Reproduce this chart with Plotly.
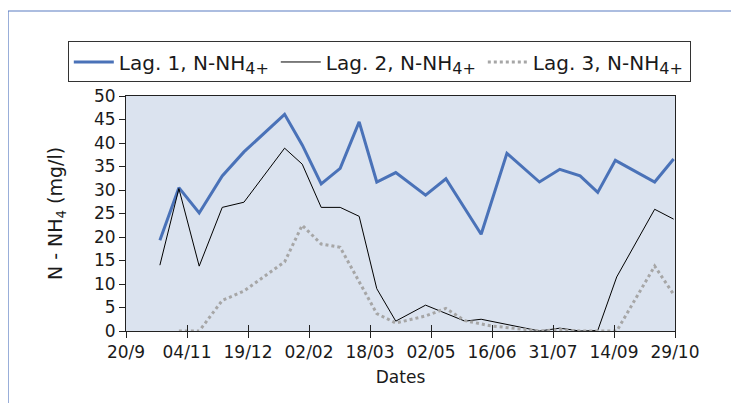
import plotly.graph_objects as go

# ---- data ----
lag1_dates = ["1999-10-15", "1999-10-29", "1999-11-13", "1999-11-30", "1999-12-16",
              "2000-01-15", "2000-01-28", "2000-02-11", "2000-02-25", "2000-03-10",
              "2000-03-23", "2000-04-06", "2000-04-28", "2000-05-13", "2000-06-08",
              "2000-06-27", "2000-07-21", "2000-08-05", "2000-08-20", "2000-09-02",
              "2000-09-15", "2000-10-14", "2000-10-28"]
lag1_vals = [19.3, 30.5, 25.1, 33.0, 38.1, 46.1, 39.6, 31.3, 34.6, 44.5, 31.7, 33.7,
             28.9, 32.4, 20.6, 37.8, 31.7, 34.4, 33.0, 29.5, 36.3, 31.7, 36.6]

lag2_dates = ["1999-10-15", "1999-10-29", "1999-11-13", "1999-11-30", "1999-12-16",
              "2000-01-15", "2000-01-28", "2000-02-11", "2000-02-25", "2000-03-10",
              "2000-03-23", "2000-04-06", "2000-04-28", "2000-05-27", "2000-06-08",
              "2000-07-21", "2000-08-05", "2000-08-20", "2000-09-02", "2000-09-16",
              "2000-10-14", "2000-10-28"]
lag2_vals = [14.0, 30.3, 13.8, 26.3, 27.4, 38.9, 35.5, 26.3, 26.3, 24.4, 9.0, 2.1,
             5.5, 2.1, 2.5, 0.0, 0.6, 0.0, 0.1, 11.5, 25.9, 23.8]

lag3_dates = ["1999-10-29", "1999-11-13", "1999-11-30", "1999-12-16", "2000-01-15",
              "2000-01-28", "2000-02-11", "2000-02-25", "2000-03-10", "2000-03-23",
              "2000-04-06", "2000-04-28", "2000-05-13", "2000-05-27", "2000-06-15",
              "2000-07-21", "2000-08-05", "2000-08-20", "2000-09-16", "2000-10-14",
              "2000-10-28"]
lag3_vals = [0.0, 0.0, 6.5, 8.5, 14.7, 22.5, 18.5, 17.8, 10.5, 3.7, 1.7, 3.2, 4.8,
             2.2, 1.1, 0.0, 0.3, 0.0, 0.0, 13.8, 7.8]

tick_dates = ["1999-09-20", "1999-11-04", "1999-12-19", "2000-02-02", "2000-03-18",
              "2000-05-02", "2000-06-16", "2000-07-31", "2000-09-14", "2000-10-29"]
tick_labels = ["20/9", "04/11", "19/12", "02/02", "18/03", "02/05", "16/06",
               "31/07", "14/09", "29/10"]
y_ticks = [0, 5, 10, 15, 20, 25, 30, 35, 40, 45, 50]

FONT = "DejaVu Sans"
FS = 17
SUB = '<sub><span style="font-size:16px">4+</span></sub>'

fig = go.Figure()
fig.add_trace(go.Scatter(x=lag1_dates, y=lag1_vals, mode="lines",
                         name="Lag. 1, N-NH" + SUB,
                         line=dict(color="#4a72b8", width=3)))
fig.add_trace(go.Scatter(x=lag2_dates, y=lag2_vals, mode="lines",
                         name="Lag. 2, N-NH" + SUB,
                         line=dict(color="#000000", width=1)))
fig.add_trace(go.Scatter(x=lag3_dates, y=lag3_vals, mode="lines",
                         name="Lag. 3, N-NH" + SUB,
                         line=dict(color="#a6a6a6", width=3, dash="dot")))
# helper trace so the overlay axis (inner tick halves) is drawn
fig.add_trace(go.Scatter(x=tick_dates, y=[None] * len(tick_dates), xaxis="x2",
                         mode="lines", showlegend=False, hoverinfo="skip"))

x_range = [tick_dates[0], tick_dates[-1]]

fig.update_layout(
    width=739, height=403,
    margin=dict(l=118, r=72, t=88, b=80, autoexpand=False),
    paper_bgcolor="white",
    plot_bgcolor="#dbe3ef",
    font=dict(family=FONT, size=FS, color="#1a1a1a"),
    showlegend=True,
    legend=dict(orientation="h", x=-0.106, y=1.232, xanchor="left", yanchor="top",
                bordercolor="#333333", borderwidth=1, bgcolor="white",
                font=dict(family=FONT, size=20), itemwidth=40,
                entrywidth=152, tracegroupgap=0),
    xaxis=dict(type="date", range=x_range, tickvals=tick_dates, ticktext=tick_labels,
               ticks="outside", ticklen=6, tickcolor="#222222", tickwidth=1,
               showline=True, linecolor="#222222", linewidth=1, mirror=True,
               showgrid=False, zeroline=False,
               title=dict(text="Dates", font=dict(size=FS), standoff=9),
               tickfont=dict(size=FS)),
    xaxis2=dict(type="date", range=x_range, tickvals=tick_dates, overlaying="x",
                anchor="y", side="bottom", ticks="inside", ticklen=6,
                tickcolor="#222222", showticklabels=False, showline=False,
                showgrid=False, zeroline=False),
    yaxis=dict(range=[0, 50], tickvals=y_ticks, ticks="outside", ticklen=6,
               tickcolor="#222222", showline=True, linecolor="#222222",
               linewidth=1, mirror=True, showgrid=False, zeroline=False,
               title=dict(text="N - NH<sub>4</sub> (mg/l)", font=dict(size=19),
                          standoff=26),
               tickfont=dict(size=FS)),
    shapes=[dict(type="rect", xref="paper", yref="paper",
                 x0=-0.2149, x1=1.3, y0=-0.5, y1=1.3617,
                 line=dict(color="#5b7cc2", width=1.2), fillcolor="rgba(0,0,0,0)",
                 layer="below")],
)

fig.write_html("out.html")
